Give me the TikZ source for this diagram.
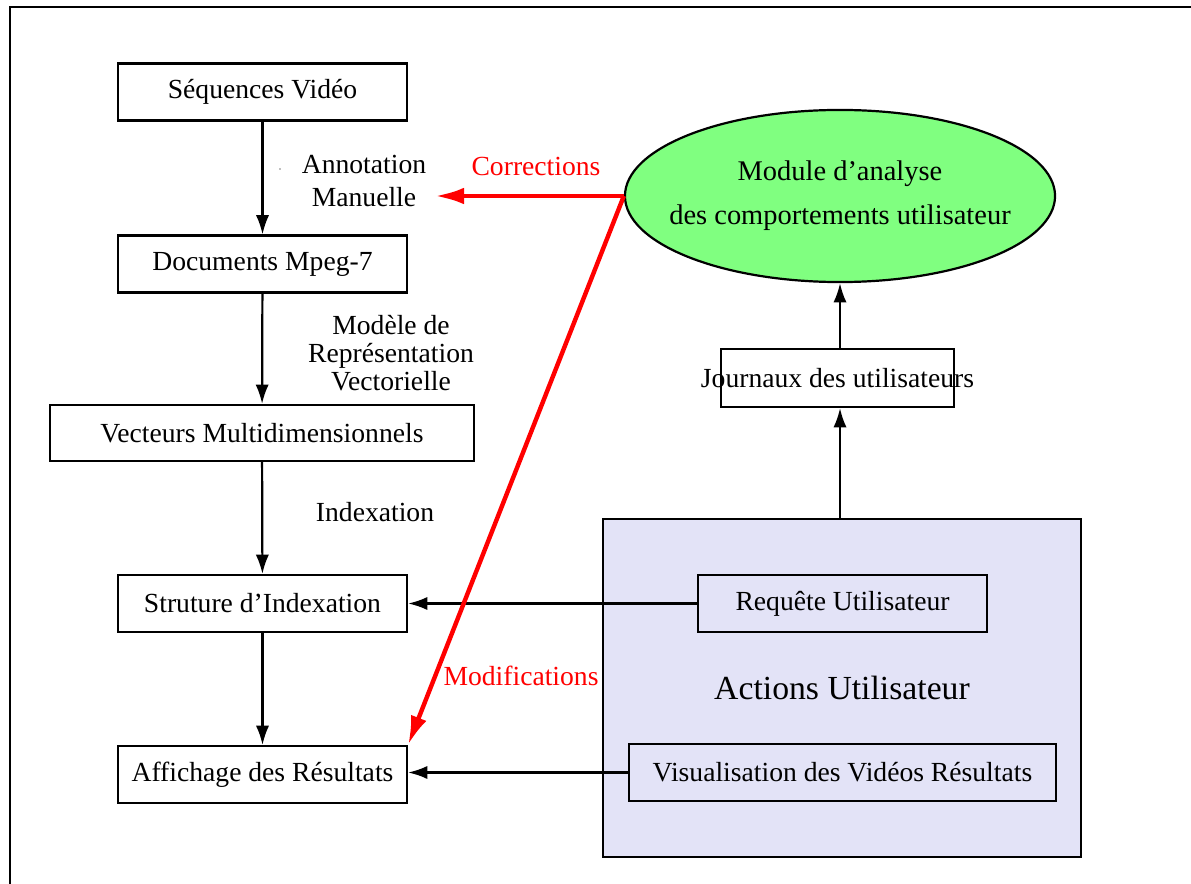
\documentclass[tikz,border=0pt]{standalone}
\usepackage{fontspec}
\setmainfont{Liberation Serif}
\usetikzlibrary{shapes.geometric,arrows.meta}

\definecolor{vertclair}{HTML}{80FF80}
\definecolor{lavande}{HTML}{E3E3F7}

\begin{document}
\begin{tikzpicture}[x=0.362pt,y=-0.362pt,
    bloc/.style={draw,line width=0.8pt,minimum width=104.6pt,minimum height=20.6pt,
      inner sep=0pt,font=\fontsize{10}{12}\selectfont},
    fleche/.style={-{Latex[length=7pt,width=4.8pt]},line width=0.8pt},
    rouge/.style={-{Latex[length=10.5pt,width=6pt]},line width=1.6pt,red},
    etiq/.style={align=center,font=\fontsize{10}{11.6}\selectfont}]
  \useasboundingbox (0,0) rectangle (1191,884);
  \draw[line width=0.9pt] (10,884) -- (10,7) -- (1191,7);

  % chaine d'indexation
  \node[bloc] (seq) at (262.5,92) {Séquences Vidéo};
  \node[bloc] (doc) at (262.5,264) {Documents Mpeg-7};
  \node[bloc,minimum width=153.5pt,minimum height=20.3pt] (vec) at (262,433) {Vecteurs Multidimensionnels};
  \node[bloc] (str) at (262.5,603.5) {Struture d’Indexation};
  \node[bloc] (aff) at (262.5,774.5) {Affichage des Résultats};

  \draw[fleche] (seq) -- (doc);
  \draw[fleche] (doc) -- (vec);
  \draw[fleche] (vec) -- (str);
  \draw[fleche] (str) -- (aff);

  \node[etiq] (annot) at (364,181) {Annotation\\Manuelle};
  \fill[gray] (280,169) circle [radius=0.35pt];
  \node[etiq,font=\fontsize{10}{10.1}\selectfont] (modele) at (391,353) {Modèle de\\Représentation\\Vectorielle};
  \node[etiq] (index) at (375,512) {Indexation};

  % actions et analyse
  \node[draw,line width=0.8pt,fill=lavande,minimum width=173pt,minimum height=122.4pt,
    font=\fontsize{12.2}{14}\selectfont] (act) at (842,688) {Actions Utilisateur};
  \node[bloc] (req) at (842.5,603.5) {Requête Utilisateur};
  \node[bloc,minimum width=154.6pt] (vis) at (842.5,772.5) {Visualisation des Vidéos Résultats};

  \node[bloc,minimum width=84.3pt,minimum height=21pt,inner xsep=-9pt] (jour) at (837.5,378) {Journaux des utilisateurs};
  \node[ellipse,draw,line width=0.8pt,fill=vertclair,minimum width=155.7pt,minimum height=62.3pt,
    inner sep=0pt] (ell) at (840,196) {};
  \node[align=center,font=\fontsize{10.3}{16}\selectfont] (mod) at (ell) {Module d’analyse\\des comportements utilisateur};

  \draw[fleche] (req.west) -- (req.west -| str.east);
  \draw[fleche] (vis.west) -- (vis.west -| aff.east);
  \draw[fleche] (act.north -| ell.south) -- (jour.south -| ell.south);
  \draw[fleche] (jour.north -| ell.south) -- (ell.south);

  % retours de l'analyse
  \coordinate (corr) at (435,193);
  \draw[rouge] (ell.west) -- (ell.west -| corr);
  \draw[rouge] (ell.west) -- (aff.north east);
  \node[etiq,red] (lcorr) at (536,166) {Corrections};
  \node[etiq,red] (lmodif) at (521,676) {Modifications};
\end{tikzpicture}
\end{document}
